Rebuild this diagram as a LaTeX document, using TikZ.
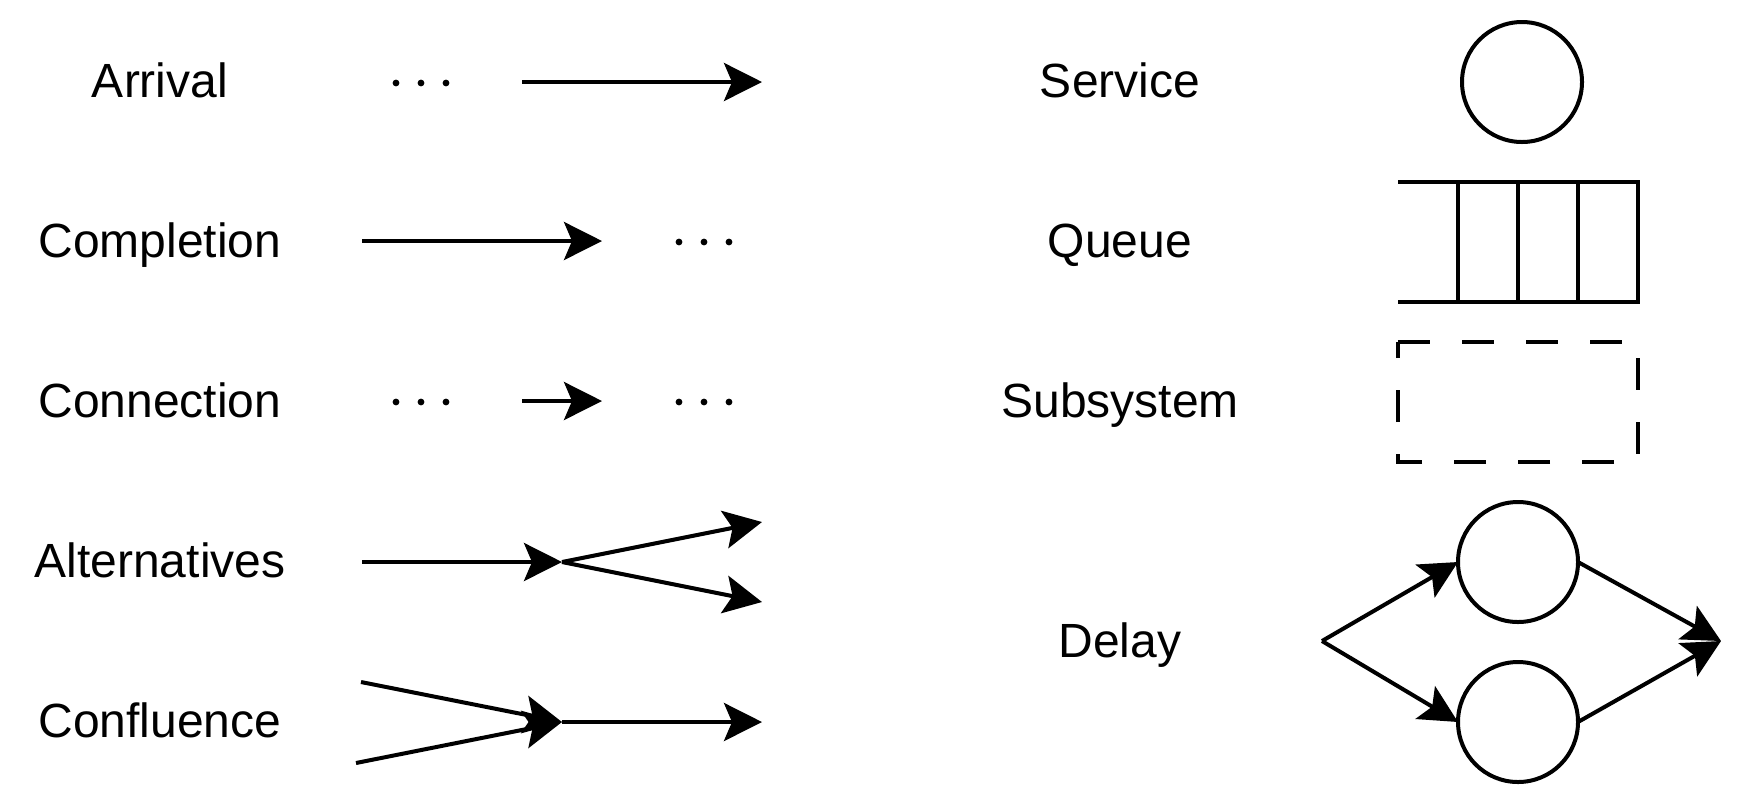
\documentclass[tikz,border=0pt]{standalone}
\usepackage{fontspec}
\setmainfont{Liberation Sans}
\usetikzlibrary{arrows.meta}
\begin{document}
\begin{tikzpicture}[x=0.5pt,y=-0.5pt,
  line width=2pt,
  lbl/.style={anchor=base, font=\fontsize{24}{29}\selectfont, inner sep=0pt},
  arr/.style={-{Stealth[length=19pt,width=19pt,inset=4pt]}},
  dotc/.style={circle, fill=black, draw=none, inner sep=0pt, minimum size=3.4pt},
  srv/.style={circle, draw, minimum size=60pt, inner sep=0pt, outer sep=0pt},
  dsh/.style={dash pattern=on 16pt off 16pt}
]
\useasboundingbox (0,0) rectangle (1756,800);

% ---------- left labels ----------
\node[lbl] (arrival) at (160,97) {Arrival};
\node[lbl] (completion) at (160,257) {Completion};
\node[lbl] (connection) at (160,417) {Connection};
\node[lbl] (alternatives) at (160,577) {Alternatives};
\node[lbl] (confluence) at (160,737) {Confluence};

% ---------- right labels ----------
\node[lbl] (service) at (1120,97) {Service};
\node[lbl] (queue) at (1120,257) {Queue};
\node[lbl] (subsystem) at (1120,417) {Subsystem};
\node[lbl] (delay) at (1120,657) {Delay};

% ---------- dots ----------
\foreach \x [count=\i] in {396,421,446} {
  \node[dotc] (ad\i) at (\x,83) {};
  \node[dotc] (cnl\i) at (\x,402) {};
}
\foreach \x [count=\i] in {679,704,729} {
  \node[dotc] (cd\i) at (\x,242) {};
  \node[dotc] (cnr\i) at (\x,402) {};
}

% ---------- Arrival ----------
\coordinate (arrS) at (522,82);
\coordinate (arrE) at (762,82);
\draw[arr] (arrS) -- (arrE);

% ---------- Completion ----------
\coordinate (comS) at (362,241);
\coordinate (comE) at (602,241);
\draw[arr] (comS) -- (comE);

% ---------- Connection ----------
\coordinate (conS) at (522,401);
\coordinate (conE) at (602,401);
\draw[arr] (conS) -- (conE);

% ---------- Alternatives ----------
\coordinate (altS) at (362,562);
\coordinate (altM) at (562,562);
\coordinate (altU) at (762,522);
\coordinate (altD) at (762,602);
\draw[arr] (altS) -- (altM);
\draw[arr] (altM) -- (altU);
\draw[arr] (altM) -- (altD);

% ---------- Confluence ----------
\coordinate (cfU) at (361,682);
\coordinate (cfD) at (356,763);
\coordinate (cfM) at (562,722);
\coordinate (cfE) at (762,722);
\draw[arr] (cfU) -- (cfM);
\draw[arr] (cfD) -- (cfM);
\draw[arr] (cfM) -- (cfE);

% ---------- Service ----------
\node[srv] (srvc) at (1522,82) {};

% ---------- Queue ----------
\coordinate (qTL) at (1398,182);
\coordinate (qBL) at (1398,302);
\coordinate (qTR) at (1638,182);
\coordinate (qBR) at (1638,302);
\draw (qTL) -- (qTR) -- (qBR) -- (qBL);
\foreach \x [count=\i] in {1458,1518,1578} {
  \coordinate (qt\i) at (\x,182);
  \coordinate (qb\i) at (\x,302);
  \draw (qt\i) -- (qb\i);
}

% ---------- Subsystem ----------
\coordinate (sTL) at (1398,342);
\coordinate (sTR) at (1638,342);
\coordinate (sBR) at (1638,462);
\coordinate (sBL) at (1398,462);
\draw[dsh] (sTL) -- (sTR) -- (sBR) -- (sBL) -- cycle;

% ---------- Delay ----------
\node[srv] (dU) at (1518,562) {};
\node[srv] (dD) at (1518,722) {};
\coordinate (dS) at (1322,641);
\coordinate (dE) at (1721,641);
\draw[arr] (dS) -- (dU.west);
\draw[arr] (dS) -- (dD.west);
\draw[arr] (dU.east) -- (dE);
\draw[arr] (dD.east) -- (dE);
\end{tikzpicture}
\end{document}
